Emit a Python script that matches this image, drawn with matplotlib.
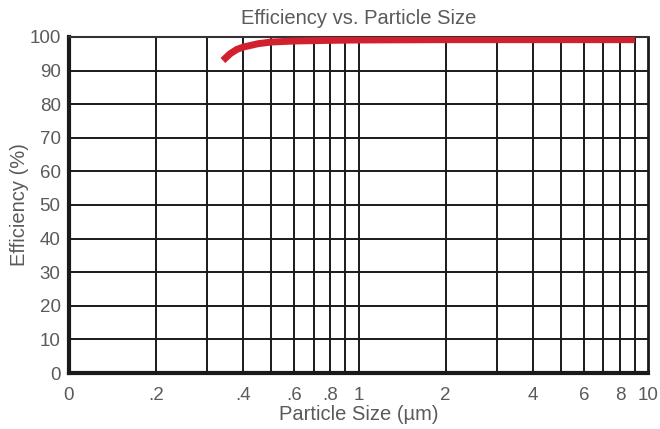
import numpy as np
import matplotlib.pyplot as plt
from matplotlib.ticker import FixedLocator, NullFormatter

# particle size (um) vs efficiency (%)
size_um = [0.34, 0.36, 0.38, 0.40, 0.45, 0.50, 0.60, 0.80, 1.0, 2.0, 5.0, 9.0]
efficiency = [93.0, 95.0, 96.3, 97.0, 98.0, 98.5, 98.8, 99.0, 99.1, 99.2, 99.2, 99.2]

x_ticks = [0.1, 0.2, 0.4, 0.6, 0.8, 1, 2, 4, 6, 8, 10]
x_labels = ['0', '.2', '.4', '.6', '.8', '1', '2', '4', '6', '8', '10']
x_grid = [0.2, 0.3, 0.4, 0.5, 0.6, 0.7, 0.8, 0.9, 1, 2, 3, 4, 5, 6, 7, 8, 9]
y_ticks = list(range(0, 101, 10))

plt.rcParams['font.family'] = ['Liberation Sans', 'DejaVu Sans']
text_col = '#5a5a5a'

fig = plt.figure(figsize=(6.6, 4.29), dpi=100)
ax = fig.add_axes([0.1045, 0.1305, 0.8775, 0.7833])

ax.set_xscale('log')
ax.set_xlim(0.1, 10)
ax.set_ylim(0, 100)

for g in x_grid:
    ax.axvline(g, color='#1a1a1a', lw=1.4, zorder=1)
for g in y_ticks[1:-1]:
    ax.axhline(g, color='#1a1a1a', lw=1.4, zorder=1)

ax.plot(size_um, efficiency, color='#d2202f', lw=5, solid_capstyle='butt', zorder=3)

ax.xaxis.set_major_locator(FixedLocator(x_ticks))
ax.xaxis.set_minor_locator(FixedLocator([]))
ax.xaxis.set_minor_formatter(NullFormatter())
ax.set_xticklabels(x_labels)
ax.set_yticks(y_ticks)
ax.tick_params(length=0, labelsize=13.5, labelcolor=text_col)
ax.tick_params(axis='x', pad=10)
ax.tick_params(axis='y', pad=6)

for side in ['left', 'bottom']:
    ax.spines[side].set_linewidth(3)
    ax.spines[side].set_color('#1a1a1a')
ax.spines['right'].set_linewidth(2)
ax.spines['right'].set_color('#1a1a1a')
ax.spines['top'].set_linewidth(1.5)
ax.spines['top'].set_color('#333333')

ax.set_title('Efficiency vs. Particle Size', fontsize=14.5, color=text_col, pad=9)
ax.set_xlabel('Particle Size (µm)', fontsize=14.5, color=text_col, labelpad=1)
ax.set_ylabel('Efficiency (%)', fontsize=14.5, color=text_col, labelpad=0)

fig.savefig('out.png', dpi=100)
